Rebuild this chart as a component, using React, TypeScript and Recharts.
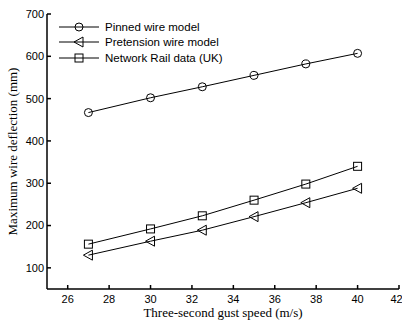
import { LineChart, Line, XAxis, YAxis, Label } from "recharts"

const speeds = [27, 30, 32.5, 35, 37.5, 40]
const pinned = [467, 502, 528, 555, 582, 607]
const pretension = [130, 163, 189, 221, 254, 288]
const networkRail = [156, 192, 223, 260, 298, 340]
const xTicks = [26, 28, 30, 32, 34, 36, 38, 40, 42]
const yTicks = [100, 200, 300, 400, 500, 600, 700]

const data = speeds.map((s, i) => ({
  speed: s,
  pinned: pinned[i],
  pretension: pretension[i],
  rail: networkRail[i],
}))

const tickFont = { fontFamily: "Liberation Sans, Arial", fontSize: 11, fill: "#000" }

type MarkerProps = { cx?: number; cy?: number; kind: string }

function Marker({ cx, cy, kind }: MarkerProps) {
  if (cx == null || cy == null) return null
  if (kind === "circle") return <circle cx={cx} cy={cy} r={4} fill="none" stroke="#000" strokeWidth={1} />
  if (kind === "square") return <rect x={cx - 4} y={cy - 4} width={8} height={8} fill="none" stroke="#000" strokeWidth={1} />
  return <polygon points={`${cx - 5},${cy} ${cx + 4},${cy - 5} ${cx + 4},${cy + 5}`} fill="none" stroke="#000" strokeWidth={1} />
}

const legendItems = [
  { name: "Pinned wire model", kind: "circle" },
  { name: "Pretension wire model", kind: "triangle" },
  { name: "Network Rail data (UK)", kind: "square" },
]

function LegendBox() {
  return (
    <div style={{ position: "absolute", left: 58, top: 19 }}>
      {legendItems.map((it) => (
        <div key={it.name} style={{ display: "flex", alignItems: "center", height: 15.5 }}>
          <svg width={42} height={12}>
            <line x1={1} y1={6} x2={41} y2={6} stroke="#000" strokeWidth={1} />
            <Marker cx={21} cy={6} kind={it.kind} />
          </svg>
          <span style={{ ...tickFont, fontSize: 11.5, color: "#000", marginLeft: 5 }}>{it.name}</span>
        </div>
      ))}
    </div>
  )
}

export default function App() {
  return (
    <div style={{ position: "absolute", left: 0, top: 0, width: 402, height: 325, background: "#fff" }}>
      <LineChart width={402} height={325} data={data} margin={{ top: 14, right: 3, bottom: 0, left: 0 }}>
        <XAxis
          dataKey="speed"
          type="number"
          domain={[25, 42]}
          ticks={xTicks}
          allowDataOverflow
          height={36}
          tick={tickFont}
          tickSize={-4}
          tickMargin={10}
          stroke="#000"
          strokeWidth={1.5}
        >
          <Label
            value="Three-second gust speed (m/s)"
            position="insideBottom"
            offset={8}
            style={{ fontFamily: "Liberation Serif, Times New Roman", fontSize: 13, fill: "#000" }}
          />
        </XAxis>
        <XAxis
          xAxisId="top"
          dataKey="speed"
          orientation="top"
          type="number"
          domain={[25, 42]}
          ticks={xTicks}
          allowDataOverflow
          height={0}
          tick={false}
          tickSize={-4}
          stroke="#000"
          strokeWidth={1.5}
        />
        <YAxis
          type="number"
          domain={[50, 700]}
          ticks={yTicks}
          allowDataOverflow
          width={47}
          tick={tickFont}
          tickSize={-4}
          tickMargin={7}
          stroke="#000"
          strokeWidth={1.5}
        >
          <Label
            value="Maximum wire deflection (mm)"
            angle={-90}
            position="insideLeft"
            offset={12}
            style={{ textAnchor: "middle", fontFamily: "Liberation Serif, Times New Roman", fontSize: 13, fill: "#000" }}
          />
        </YAxis>
        <YAxis
          yAxisId="right"
          orientation="right"
          type="number"
          domain={[50, 700]}
          ticks={yTicks}
          allowDataOverflow
          width={0}
          tick={false}
          tickSize={-4}
          stroke="#000"
          strokeWidth={1.5}
        />
        <Line
          dataKey="pinned"
          stroke="#000"
          strokeWidth={1}
          isAnimationActive={false}
          dot={(p: any) => <Marker key={`c${p.index}`} cx={p.cx} cy={p.cy} kind="circle" />}
        />
        <Line
          dataKey="pretension"
          stroke="#000"
          strokeWidth={1}
          isAnimationActive={false}
          dot={(p: any) => <Marker key={`t${p.index}`} cx={p.cx} cy={p.cy} kind="triangle" />}
        />
        <Line
          dataKey="rail"
          stroke="#000"
          strokeWidth={1}
          isAnimationActive={false}
          dot={(p: any) => <Marker key={`s${p.index}`} cx={p.cx} cy={p.cy} kind="square" />}
        />
        <Line
          dataKey="pinned"
          xAxisId="top"
          yAxisId="right"
          stroke="none"
          dot={false}
          activeDot={false}
          legendType="none"
          isAnimationActive={false}
        />
      </LineChart>
      <LegendBox />
    </div>
  )
}
